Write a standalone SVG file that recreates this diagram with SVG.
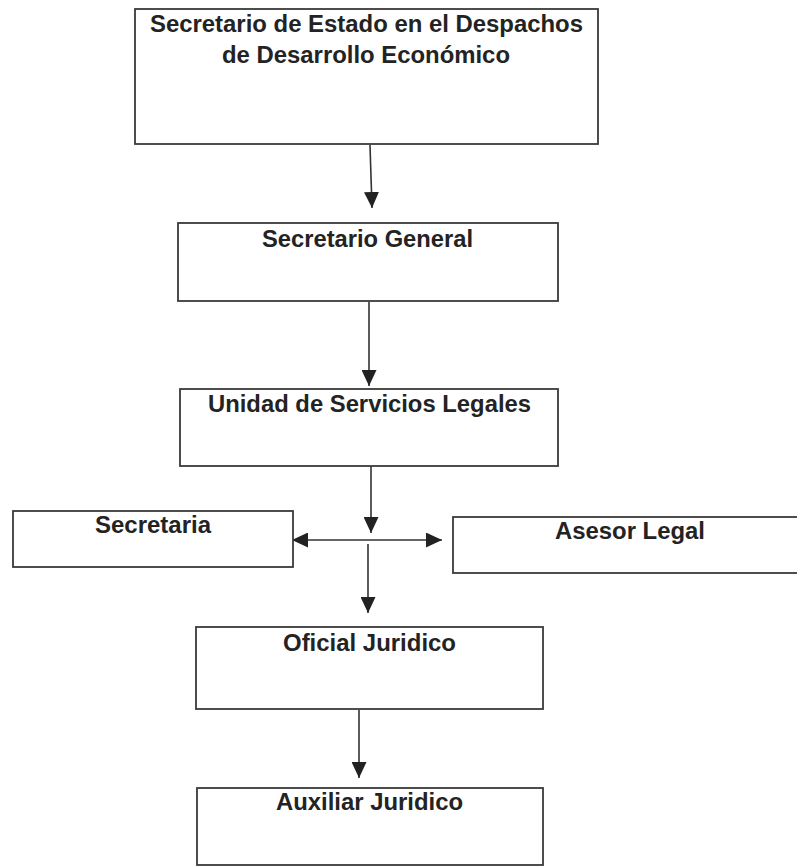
<svg xmlns="http://www.w3.org/2000/svg" width="797" height="867" viewBox="0 0 797 867">
<style>
.box{fill:#fff;stroke:#3a3a3a;stroke-width:1.8}
.lbl{font-family:"Liberation Sans",Arial,sans-serif;font-weight:bold;font-size:23px;fill:#232323}
.conn{stroke:#333;stroke-width:1.6;fill:none}
</style>
<defs>
<marker id="arr" markerUnits="userSpaceOnUse" markerWidth="16" markerHeight="15" viewBox="0 0 16 15" refX="16" refY="7.5" orient="auto-start-reverse">
<path d="M0,0 L16,7.5 L0,15 z" fill="#222"/>
</marker>
</defs>
<rect width="797" height="867" fill="#fff"/>
<g id="connectors">
<line class="conn" x1="370" y1="145" x2="372" y2="208" marker-end="url(#arr)"/>
<line class="conn" x1="369" y1="302" x2="369" y2="386" marker-end="url(#arr)"/>
<line class="conn" x1="371" y1="466" x2="371" y2="533" marker-end="url(#arr)"/>
<line class="conn" x1="292" y1="540" x2="442" y2="540" marker-start="url(#arr)" marker-end="url(#arr)"/>
<line class="conn" x1="368" y1="544" x2="368" y2="613" marker-end="url(#arr)"/>
<line class="conn" x1="359" y1="710" x2="359" y2="778" marker-end="url(#arr)"/>
</g>
<g id="n1">
<rect class="box" x="135" y="9" width="463" height="135"/>
<text class="lbl" x="366.5" y="32" text-anchor="middle" textLength="433" lengthAdjust="spacingAndGlyphs">Secretario de Estado en el Despachos</text>
<text class="lbl" x="366" y="63" text-anchor="middle" textLength="288" lengthAdjust="spacingAndGlyphs">de Desarrollo Económico</text>
</g>
<g id="n2">
<rect class="box" x="178" y="223" width="380" height="78"/>
<text class="lbl" x="367.5" y="247" text-anchor="middle" textLength="211" lengthAdjust="spacingAndGlyphs">Secretario General</text>
</g>
<g id="n3">
<rect class="box" x="180" y="389" width="378" height="77"/>
<text class="lbl" x="369.5" y="412" text-anchor="middle" textLength="323" lengthAdjust="spacingAndGlyphs">Unidad de Servicios Legales</text>
</g>
<g id="n4">
<rect class="box" x="13" y="511" width="280" height="56"/>
<text class="lbl" x="153" y="533" text-anchor="middle" textLength="116" lengthAdjust="spacingAndGlyphs">Secretaria</text>
</g>
<g id="n5">
<rect class="box" x="453" y="517" width="360" height="56"/>
<text class="lbl" x="630" y="539" text-anchor="middle" textLength="150" lengthAdjust="spacingAndGlyphs">Asesor Legal</text>
</g>
<g id="n6">
<rect class="box" x="196" y="627" width="347" height="82"/>
<text class="lbl" x="369.5" y="651" text-anchor="middle" textLength="173" lengthAdjust="spacingAndGlyphs">Oficial Juridico</text>
</g>
<g id="n7">
<rect class="box" x="197" y="788" width="346" height="77"/>
<text class="lbl" x="369.5" y="810" text-anchor="middle" textLength="187" lengthAdjust="spacingAndGlyphs">Auxiliar Juridico</text>
</g>
</svg>
